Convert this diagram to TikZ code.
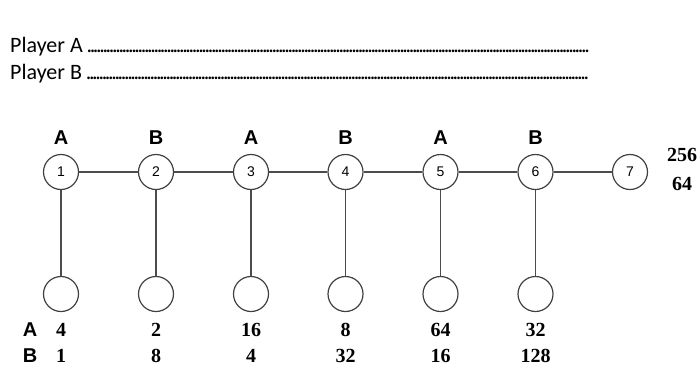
\documentclass[tikz,border=0pt]{standalone}
\usepackage{fontspec}
\setmainfont{Liberation Serif}
\newfontfamily\calib{Carlito}
\newfontfamily\arialf{Liberation Sans}
\begin{document}
\begin{tikzpicture}[x=1pt,y=-1pt,
  edge/.style={draw=black!70,line width=1.3pt},
  move/.style={circle,draw=black!75,line width=1.2pt,minimum size=35pt,inner sep=0pt,
    font=\arialf\fontsize{14}{15}\selectfont},
  who/.style={font=\arialf\bfseries\fontsize{20}{22}\selectfont,inner sep=0pt},
  pay/.style={font=\bfseries\fontsize{20}{22}\selectfont,inner sep=0pt},
  playerline/.style={font=\calib\fontsize{22}{24}\selectfont,inner sep=0pt,anchor=west}]
\useasboundingbox (0,0) rectangle (700,370);

% answer lines
\node[playerline] (pa) at (10,47) {Player A \hbox to 505pt{\leaders\hbox to 3.2pt{\hss.\hss}\hfill}};
\node[playerline] (pb) at (10,74) {Player B \hbox to 505pt{\leaders\hbox to 3.2pt{\hss.\hss}\hfill}};

% decision nodes along the main line
\foreach \i/\x in {1/61,2/156,3/251,4/345.5,5/440.5,6/535.5,7/630}
  \node[move] (n\i) at (\x,172) {\i};
% terminal nodes below
\foreach \i/\x in {1/61,2/156,3/251,4/345.5,5/440.5,6/535.5}
  \node[move] (t\i) at (\x,294) {};

% connectors
\foreach \i/\j in {1/2,2/3,3/4,4/5,5/6,6/7}
  \draw[edge] (n\i) -- (n\j);
\foreach \i in {1,...,6}
  \draw[edge] (n\i) -- (t\i);

% who moves
\foreach \i/\p in {1/A,2/B,3/A,4/B,5/A,6/B}
  \node[who] (w\i) at ([yshift=34pt]n\i) {\p};

% payoffs
\node[who] (la) at (30,330) {A};
\node[who] (lb) at (30,356) {B};
\foreach \i/\a/\b in {1/4/1,2/2/8,3/16/4,4/8/32,5/64/16,6/32/128}{
  \node[pay] (pa\i) at ([yshift=-36pt]t\i) {\a};
  \node[pay] (pb\i) at ([yshift=-62pt]t\i) {\b};
}
\node[pay] (fa) at (682,155) {256};
\node[pay] (fb) at (682,184) {64};
\end{tikzpicture}
\end{document}
